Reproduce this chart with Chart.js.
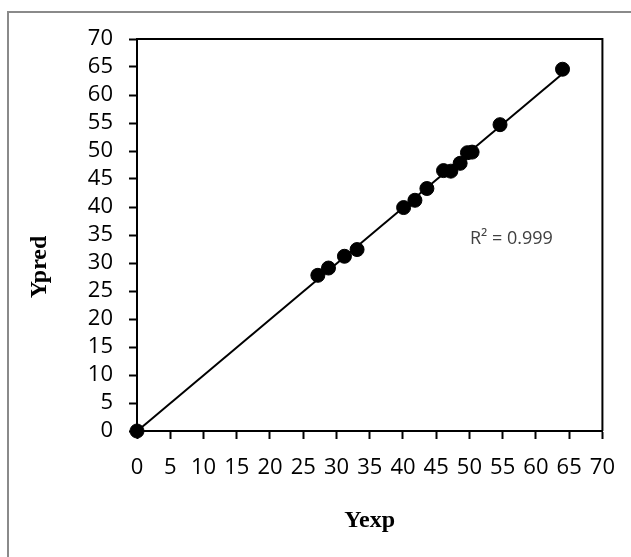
<!DOCTYPE html>
<html>
<head>
<meta charset="utf-8">
<script src="https://cdn.jsdelivr.net/npm/chart.js@4/dist/chart.umd.min.js"></script>
<style>
  html, body { margin: 0; padding: 0; background: #ffffff; }
  body { width: 631px; height: 557px; position: relative; overflow: hidden; }
  #frame {
    position: absolute; left: 7px; top: 11px; width: 700px; height: 700px;
    border: 2px solid #8a8a8a; box-sizing: border-box; background: #ffffff;
  }
  #wrap { position: absolute; left: 0; top: 0; width: 631px; height: 557px; }
</style>
</head>
<body>
<div id="frame"></div>
<div id="wrap"><canvas id="c" width="631" height="557"></canvas></div>
<script>
// Experimental vs predicted response
const yExp  = [0, 27.2, 28.8, 31.2, 33.1, 40.1, 41.8, 43.6, 46.1, 47.2, 48.6, 49.7, 50.4, 54.6, 64.0];
const yPred = [0, 27.8, 29.1, 31.2, 32.4, 39.9, 41.2, 43.3, 46.5, 46.4, 47.8, 49.7, 49.8, 54.7, 64.6];
const tickValues = [0, 5, 10, 15, 20, 25, 30, 35, 40, 45, 50, 55, 60, 65, 70];
const fitLabel = 'R\u00B2 = 0.999';
const xTitle = 'Yexp';
const yTitle = 'Ypred';

const points = yExp.map((x, i) => ({ x: x, y: yPred[i] }));

// least-squares trendline across the measured range
const n = yExp.length;
const mx = yExp.reduce((a, b) => a + b, 0) / n;
const my = yPred.reduce((a, b) => a + b, 0) / n;
let sxy = 0, sxx = 0;
for (let i = 0; i < n; i++) { sxy += (yExp[i] - mx) * (yPred[i] - my); sxx += (yExp[i] - mx) ** 2; }
const slope = sxy / sxx;
const intercept = my - slope * mx;
const xMin = Math.min(...yExp), xMax = Math.max(...yExp);
const trend = [
  { x: xMin, y: intercept + slope * xMin },
  { x: xMax, y: intercept + slope * xMax }
];

const titleFontCss = 'bold 24px "Liberation Serif"';

// closes the plot area with a top and right border, writes the fit label
// and the vertical axis title
const boxAndLabel = {
  id: 'boxAndLabel',
  beforeDatasetsDraw(chart) {
    const { ctx, chartArea: a } = chart;
    ctx.save();
    ctx.strokeStyle = '#000';
    ctx.lineWidth = 2;
    ctx.beginPath();
    ctx.moveTo(a.left, a.top);
    ctx.lineTo(a.right, a.top);
    ctx.lineTo(a.right, a.bottom);
    ctx.stroke();
    ctx.restore();
  },
  afterDatasetsDraw(chart) {
    const { ctx, chartArea: a } = chart;
    ctx.save();
    ctx.fillStyle = '#404040';
    ctx.font = '18px "Open Sans"';
    ctx.textAlign = 'left';
    ctx.textBaseline = 'alphabetic';
    ctx.fillText(fitLabel, a.left + 333, a.top + 205);

    ctx.fillStyle = '#000';
    ctx.font = titleFontCss;
    ctx.textAlign = 'center';
    ctx.textBaseline = 'middle';
    ctx.translate(40, a.top + 228);
    ctx.rotate(-Math.PI / 2);
    ctx.fillText(yTitle, 0, 0);
    ctx.restore();
  }
};

const tickFont = { family: '"Open Sans"', size: 22 };
const titleFont = { family: '"Liberation Serif"', size: 24, weight: 'bold' };

new Chart(document.getElementById('c'), {
  type: 'scatter',
  data: {
    datasets: [
      {
        type: 'line',
        data: trend,
        borderColor: '#000',
        borderWidth: 2,
        pointRadius: 0,
        fill: false,
        clip: false,
        order: 2
      },
      {
        data: points,
        backgroundColor: '#000',
        borderColor: '#000',
        pointRadius: 7,
        pointHoverRadius: 7,
        clip: false,
        order: 1
      }
    ]
  },
  options: {
    responsive: false,
    animation: false,
    events: [],
    layout: { padding: { top: 39, right: 27, bottom: 0, left: 0 } },
    plugins: { legend: { display: false }, tooltip: { enabled: false } },
    scales: {
      x: {
        type: 'linear',
        min: 0, max: 70,
        afterFit(s) { s.height = 126; },
        afterBuildTicks(s) { s.ticks = tickValues.map(v => ({ value: v })); },
        border: { display: true, color: '#000', width: 2 },
        grid: { drawOnChartArea: false, drawTicks: true, tickLength: 8, tickColor: '#000', tickWidth: 2 },
        ticks: { color: '#000', font: tickFont, padding: 16, maxRotation: 0, autoSkip: false },
        title: { display: true, text: xTitle, color: '#000', font: titleFont, padding: { top: 0, bottom: 22 } }
      },
      y: {
        type: 'linear',
        min: 0, max: 70,
        afterFit(s) { s.width = 137; },
        afterBuildTicks(s) { s.ticks = tickValues.map(v => ({ value: v })); },
        border: { display: true, color: '#000', width: 2 },
        grid: { drawOnChartArea: false, drawTicks: true, tickLength: 8, tickColor: '#000', tickWidth: 2 },
        ticks: { color: '#000', font: tickFont, padding: 16, autoSkip: false },
        title: { display: false }
      }
    }
  },
  plugins: [boxAndLabel]
});
</script>
</body>
</html>
